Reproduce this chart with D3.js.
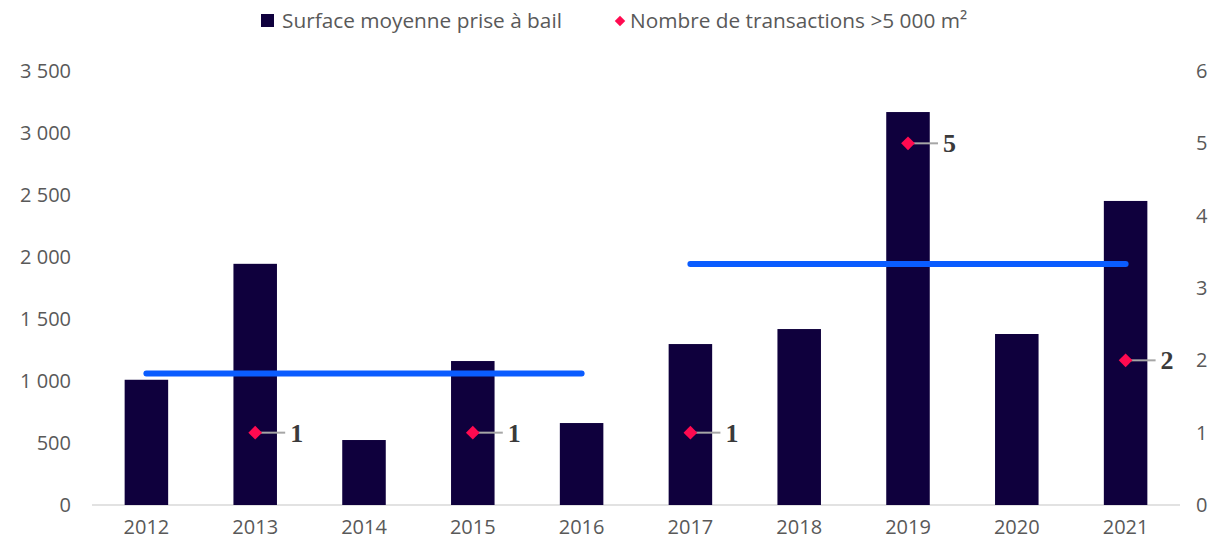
<!DOCTYPE html>
<html>
<head>
<meta charset="utf-8">
<script src="https://cdn.jsdelivr.net/npm/d3@7"></script>
<style>
  body { margin: 0; background: #fff; }
</style>
</head>
<body>
<svg id="chart" width="1215" height="541"></svg>
<script>
"use strict";

// Data
const years = ["2012", "2013", "2014", "2015", "2016", "2017", "2018", "2019", "2020", "2021"];
const surface = [1010, 1945, 524, 1161, 661, 1298, 1419, 3169, 1379, 2452];
const transactions = [null, 1, null, 1, null, 1, null, 5, null, 2];
const leftTicks = [0, 500, 1000, 1500, 2000, 2500, 3000, 3500];
const rightTicks = [0, 1, 2, 3, 4, 5, 6];
const periods = [["2012", "2016"], ["2017", "2021"]];

const barColor = "#0f003d";
const markColor = "#ff0a50";
const avgColor = "#0a5cff";
const textColor = "#595959";
const font = "'Open Sans', Lato, sans-serif";

const svg = d3.select("#chart");

const x = d3.scaleBand().domain(years).range([92, 1180]).paddingInner(0.6).paddingOuter(0.3);
const yL = d3.scaleLinear().domain([0, 3500]).range([505, 71]);
const yR = d3.scaleLinear().domain([0, 6]).range([505, 71]);
const cx = d => x(d) + x.bandwidth() / 2;

const fmt = v => d3.format(",")(v).replace(/,/g, " ");

function styleTicks(sel) {
	sel.select(".domain").remove();
	sel.selectAll("text")
		.style("font-family", font)
		.style("font-size", "20px")
		.style("font-weight", 400)
		.attr("fill", textColor);
}

// Axes
const leftAxis = d3.axisLeft(yL).tickValues(leftTicks).tickFormat(fmt).tickSize(0).tickPadding(0);
svg.append("g").attr("transform", "translate(71,0)").call(leftAxis).call(styleTicks);

const rightAxis = d3.axisRight(yR).tickValues(rightTicks).tickFormat(d3.format("d")).tickSize(0).tickPadding(0);
svg.append("g").attr("transform", "translate(1196,0)").call(rightAxis).call(styleTicks);

const bottomAxis = d3.axisBottom(x).tickSize(0).tickPadding(0);
svg.append("g").attr("transform", "translate(0,520)").call(bottomAxis).call(styleTicks);

// baseline
svg.append("line")
	.attr("x1", 92).attr("x2", 1180)
	.attr("y1", yL(0)).attr("y2", yL(0))
	.attr("stroke", "#d9d9d9").attr("stroke-width", 1.5);

// bars
svg.selectAll("rect.bar")
	.data(years.map((y, i) => ({year: y, value: surface[i]})))
	.enter()
	.append("rect")
	.attr("class", "bar")
	.attr("x", d => x(d.year))
	.attr("y", d => yL(d.value))
	.attr("width", x.bandwidth())
	.attr("height", d => yL(0) - yL(d.value))
	.attr("fill", barColor);

// period averages
periods.forEach(([a, b]) => {
	const i0 = years.indexOf(a), i1 = years.indexOf(b);
	const avg = d3.mean(surface.slice(i0, i1 + 1));
	svg.append("line")
		.attr("x1", cx(a)).attr("x2", cx(b))
		.attr("y1", yL(avg)).attr("y2", yL(avg))
		.attr("stroke", avgColor).attr("stroke-width", 6)
		.attr("stroke-linecap", "round");
});

// transactions markers with labels
const pts = years.map((y, i) => ({year: y, value: transactions[i]})).filter(d => d.value !== null);
const g = svg.selectAll("g.pt").data(pts).enter().append("g").attr("class", "pt")
	.attr("transform", d => `translate(${cx(d.year)},${yR(d.value)})`);
g.append("line").attr("x1", 0).attr("x2", 30).attr("y1", 0).attr("y2", 0)
	.attr("stroke", "#a6a6a6").attr("stroke-width", 2);
g.append("path").attr("d", d3.symbol(d3.symbolDiamond2, 120)).attr("fill", markColor);
g.append("text").attr("x", 35).attr("y", 9)
	.style("font-family", "'Liberation Serif', 'DejaVu Serif', serif")
	.style("font-weight", "bold").style("font-size", "26px")
	.attr("fill", "#3a3a3a")
	.text(d => d.value);

// legend
const leg = svg.append("g");
leg.append("rect").attr("x", 261).attr("y", 14).attr("width", 13).attr("height", 13).attr("fill", barColor);
leg.append("text").attr("x", 282).attr("y", 28)
	.style("font-family", font).style("font-size", "20.8px")
	.attr("fill", textColor)
	.text("Surface moyenne prise à bail");
leg.append("path").attr("d", d3.symbol(d3.symbolDiamond2, 70))
	.attr("transform", "translate(620,21)").attr("fill", markColor);
leg.append("text").attr("x", 630).attr("y", 28)
	.style("font-family", font).style("font-size", "20.8px")
	.attr("fill", textColor)
	.text("Nombre de transactions >5 000 m²");
</script>
</body>
</html>
